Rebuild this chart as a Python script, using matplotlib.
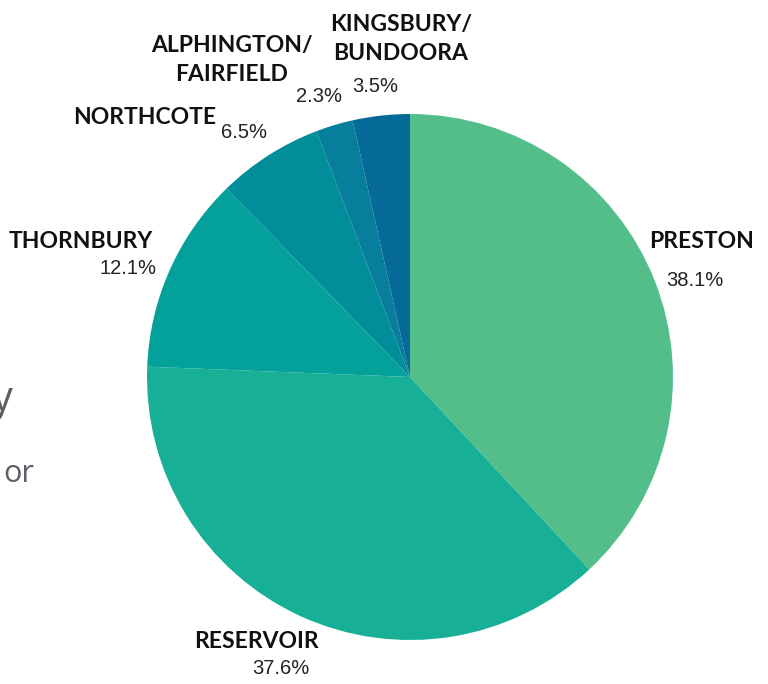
import numpy as np
import matplotlib.pyplot as plt

suburbs = ['PRESTON', 'RESERVOIR', 'THORNBURY', 'NORTHCOTE',
           'ALPHINGTON/\nFAIRFIELD', 'KINGSBURY/\nBUNDOORA']
shares = [38.1, 37.6, 12.1, 6.5, 2.3, 3.5]
colors = ['#54be8b', '#17b097', '#04a19b', '#028d9b', '#087e9d', '#066a98']

W, H = 768, 684
fig = plt.figure(figsize=(W / 100, H / 100), dpi=100)
ax = fig.add_axes([0, 0, 1, 1])

cx, cy, r = 410, H - 377, 263
ax.pie(shares, colors=colors, startangle=90, counterclock=False,
       center=(cx, cy), radius=r, frame=True,
       wedgeprops=dict(linewidth=0))
ax.set_xlim(0, W)
ax.set_ylim(0, H)
ax.set_aspect('equal')
ax.axis('off')

# label positions in pixels (x, y from top): name, then percentage
name_pos = [(702, 242), (256, 641), (81, 242), (145, 117), (232, 60), (401, 39)]
pct_pos = [(695, 280), (281, 668), (128, 268), (244, 133), (319, 97), (375, 87)]

bold = dict(family=['Lato', 'DejaVu Sans'], weight='bold',
            fontsize=16.5, color='#111111')
for name, s, (nx, ny), (px, py) in zip(suburbs, shares, name_pos, pct_pos):
    ax.text(nx, H - ny, name, ha='center', va='center', linespacing=1.45,
            multialignment='center', **bold)
    ax.text(px, H - py, f'{s}%', ha='center', va='center',
            family=['Liberation Sans', 'DejaVu Sans'], fontsize=14.5, color='#222222')

# text cut off at the left edge of the screenshot
ax.text(13, H - 400, 'y', ha='right', va='center', fontsize=30,
        family=['Open Sans', 'DejaVu Sans'], color='#5a6066')
ax.text(34, H - 474, 'or', ha='right', va='center', fontsize=22,
        family=['Open Sans', 'DejaVu Sans'], color='#5a6066')

fig.savefig('out.png', dpi=100)
